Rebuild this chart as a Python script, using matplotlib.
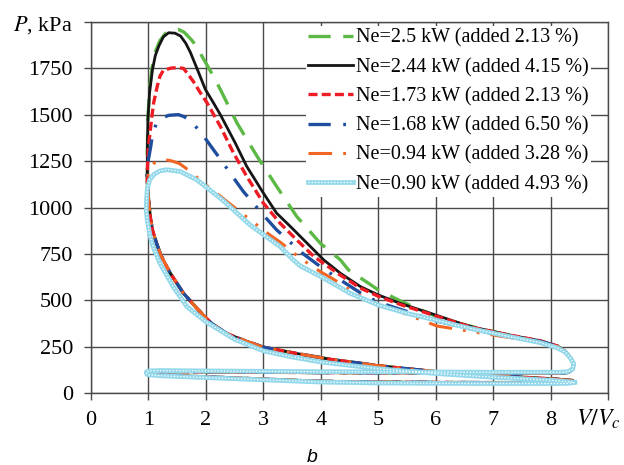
import matplotlib
matplotlib.use('Agg')
from matplotlib import pyplot as plt

plt.rcParams['font.family'] = ['Liberation Serif', 'DejaVu Serif']
plt.rcParams['mathtext.fontset'] = 'stix'
plt.rcParams['lines.scale_dashes'] = False

# compression branch (BDC -> TDC), common to most curves
v_comp = [8.38, 8.0, 7.0, 6.0, 5.0, 4.16, 3.58, 3.0, 2.7, 2.36, 2.1, 1.87, 1.61,
          1.38, 1.22, 1.14, 1.07, 1.03, 1.0, 0.98]
p_comp = [68, 78, 94, 116, 148, 183, 214, 248, 280, 322, 375, 448, 538,
          646, 740, 808, 880, 952, 1050, 1130]
v_comp_cyan = [8.38, 8.0, 7.0, 6.0, 5.0, 4.0, 3.5, 3.0, 2.5, 2.0, 1.67, 1.43,
               1.2, 1.08, 1.03, 0.98, 0.96, 0.97, 0.98]
p_comp_cyan = [60, 70, 86, 106, 132, 168, 195, 228, 290, 385, 466, 574,
               700, 790, 844, 930, 988, 1060, 1100]

# blowdown, exhaust and intake strokes
v_pump = [8.25, 8.34, 8.40, 8.38, 8.3, 8.15, 7.0, 6.0, 5.0, 4.0, 3.0, 2.0, 1.2,
          1.0, 0.96, 0.98, 1.2, 2.0, 3.0, 4.0, 5.0, 6.0, 7.0, 8.0, 8.3, 8.42]
p_pump = [225, 192, 158, 128, 112, 108, 108, 109, 110, 111, 113, 115, 117,
          116, 110, 102, 97, 88, 76, 64, 60, 58, 57, 57, 58, 62]
p_pump_cyan = [222, 190, 158, 130, 116, 113, 113, 114, 115, 116, 118, 120, 122,
               120, 112, 100, 94, 84, 72, 60, 55, 53, 52, 52, 53, 58]

# combustion + expansion (TDC -> BDC)
v_green = [0.98, 0.99, 1.02, 1.06, 1.12, 1.2, 1.3, 1.42, 1.52, 1.62, 1.73, 1.84,
           1.93, 2.13, 2.25, 2.54, 2.89, 3.23, 3.58, 3.99, 4.34, 4.48, 4.83, 5.0,
           5.41, 5.61, 6.02, 6.5, 7.0, 7.5, 7.9, 8.11]
p_green = [1300, 1480, 1640, 1750, 1840, 1900, 1940, 1958, 1960, 1945, 1910, 1870,
           1816, 1708, 1637, 1456, 1276, 1114, 952, 808, 718, 664, 592, 556,
           493, 466, 412, 368, 332, 298, 272, 255]

v_black = [0.98, 0.99, 1.02, 1.07, 1.12, 1.18, 1.26, 1.35, 1.46, 1.56, 1.65, 1.73,
           1.85, 1.99, 2.12, 2.25, 2.51, 2.71, 3.0, 3.23, 3.47, 3.76, 4.05, 4.34,
           4.69, 5.0, 5.38, 6.0, 6.43, 6.66, 7.24, 7.82, 8.11]
p_black = [1300, 1474, 1620, 1744, 1820, 1870, 1920, 1942, 1940, 1924, 1885, 1836,
           1745, 1637, 1570, 1501, 1348, 1222, 1078, 970, 898, 808, 718, 646,
           574, 529, 484, 421, 376, 355, 316, 282, 255]

v_red = [0.98, 1.0, 1.06, 1.09, 1.15, 1.2, 1.26, 1.4, 1.52, 1.61, 1.67, 1.78,
         1.9, 2.02, 2.25, 2.48, 2.71, 3.0, 3.29, 3.58, 3.88, 4.34, 4.69, 5.0,
         5.38, 6.0, 6.43, 6.66, 7.24, 7.82, 8.11]
p_red = [1200, 1330, 1492, 1564, 1650, 1708, 1740, 1752, 1754, 1750, 1726, 1680,
         1620, 1564, 1438, 1294, 1168, 1024, 916, 826, 736, 636, 566, 522,
         478, 416, 374, 353, 316, 282, 255]

v_blue = [0.97, 1.0, 1.04, 1.07, 1.14, 1.25, 1.35, 1.52, 1.62, 1.72, 1.9, 2.13,
          2.28, 2.42, 2.65, 2.8, 2.97, 3.23, 3.41, 3.58, 3.64, 4.0, 4.34, 4.69,
          5.0, 5.5, 6.0, 6.43, 6.72, 7.19, 7.82, 8.11]
p_blue = [1186, 1260, 1330, 1393, 1456, 1485, 1497, 1501, 1490, 1469, 1411, 1312,
          1249, 1186, 1087, 1033, 970, 880, 830, 781, 763, 680, 610, 540,
          490, 440, 390, 360, 341, 305, 279, 253]

v_orange = [0.97, 1.0, 1.05, 1.1, 1.2, 1.29, 1.4, 1.54, 1.73, 1.9, 2.22, 2.4,
            2.59, 2.77, 3.11, 3.3, 3.5, 3.64, 3.99, 4.22, 4.6, 5.0, 5.4, 6.02,
            6.66, 7.24, 7.82, 8.11]
p_orange = [1150, 1186, 1215, 1240, 1254, 1258, 1252, 1237, 1195, 1146, 1069, 1024,
            979, 934, 853, 812, 763, 727, 655, 614, 538, 475, 435, 362,
            330, 302, 274, 250]

v_cyan = [0.98, 1.02, 1.1, 1.2, 1.32, 1.55, 1.84, 2.0, 2.3, 2.77, 3.29, 3.52,
          3.64, 4.0, 4.51, 5.0, 5.5, 6.0, 6.42, 6.66, 7.24, 7.82, 8.11]
p_cyan = [1100, 1150, 1180, 1198, 1204, 1195, 1150, 1112, 1038, 906, 790, 718,
          686, 628, 538, 475, 430, 394, 362, 345, 308, 272, 245]

labels = ['Ne=2.5 kW (added 2.13 %)', 'Ne=2.44 kW (added 4.15 %)',
          'Ne=1.73 kW (added 2.13 %)', 'Ne=1.68 kW (added 6.50 %)',
          'Ne=0.94 kW (added 3.28 %)', 'Ne=0.90 kW (added 4.93 %)']

fig = plt.figure(figsize=(6.24, 4.65), dpi=100)
ax = fig.add_axes([0.1458, 0.1544, 0.9748 - 0.1458, 0.9527 - 0.1544])

grid_c = '#4a4a4a'
ax.set_xlim(0, 9)
ax.set_ylim(0, 2000)
ax.set_xticks(range(0, 10))
ax.set_yticks(range(0, 2001, 250))
ax.set_xticklabels([str(i) for i in range(9)] + [''])
ax.set_yticklabels([str(i) for i in range(0, 2000, 250)] + ['$P$, kPa'])
ax.grid(True, color=grid_c, lw=1.0)
ax.set_axisbelow(True)
for s in ax.spines.values():
    s.set_color(grid_c)
    s.set_linewidth(1.0)
ax.tick_params(direction='out', length=5, width=1.0, color=grid_c,
               labelsize=16, pad=8)

def loop(vc, pc, v, p, pp):
    return vc + v + v_pump, pc + p + pp

h = []
vv, pp_ = loop(v_comp, p_comp, v_green, p_green, p_pump)
h.append(ax.plot(vv, pp_, color='#5cb946', lw=2.4, dashes=(16, 9))[0])
vv, pp_ = loop(v_comp, p_comp, v_black, p_black, p_pump)
h.append(ax.plot(vv, pp_, color='#151515', lw=2.0)[0])
vv, pp_ = loop(v_comp, p_comp, v_red, p_red, p_pump)
h.append(ax.plot(vv, pp_, color='#ee1c25', lw=2.4, dashes=(6.5, 3))[0])
vv, pp_ = loop(v_comp, p_comp, v_blue, p_blue, p_pump)
h.append(ax.plot(vv, pp_, color='#1f4e9e', lw=2.4, dashes=(16, 9, 2, 9))[0])
vv, pp_ = loop(v_comp, p_comp, v_orange, p_orange, p_pump)
h.append(ax.plot(vv, pp_, color='#f26522', lw=2.2, dashes=(17, 8, 2, 8, 2, 8))[0])
vv, pp_ = loop(v_comp_cyan, p_comp_cyan, v_cyan, p_cyan, p_pump_cyan)
c1, = ax.plot(vv, pp_, color='#92d8ea', lw=3.4)
c2, = ax.plot(vv, pp_, color='white', lw=0.9, dashes=(1, 1.3))
h.append((c1, c2))

leg = ax.legend(h, labels, loc='upper left', bbox_to_anchor=(306 / 624, 1 - 26 / 465),
                bbox_transform=fig.transFigure,
                fontsize=14.5, frameon=True, fancybox=False, framealpha=1,
                edgecolor='none', facecolor='white', handlelength=2.2,
                handletextpad=0.15, labelspacing=0.5, borderaxespad=0,
                borderpad=0.12)

fig.text(598 / 624, 1 - 419 / 465, '$V/V_c$', fontsize=17, ha='center', va='center')
fig.text(312 / 624, 1 - 457 / 465, 'b', fontsize=14, ha='center', va='center',
         family='Liberation Sans', style='italic')

plt.savefig('out.png', dpi=100)
